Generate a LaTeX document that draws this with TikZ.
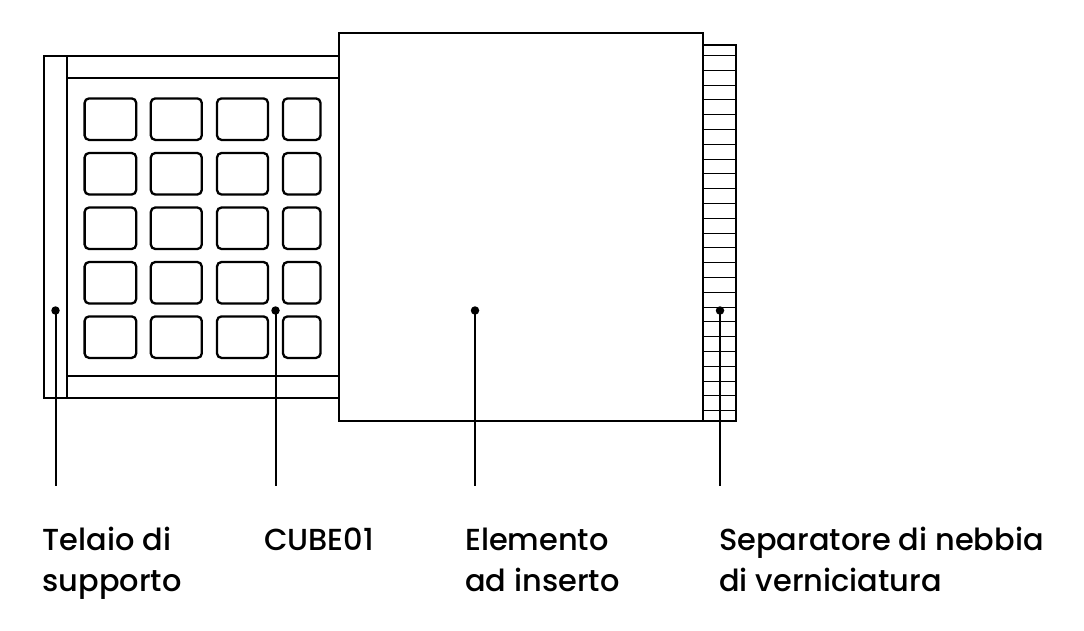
\documentclass[tikz,border=0pt]{standalone}
\usepackage{fontspec}
\setmainfont{Poppins Medium}
\usetikzlibrary{positioning}

\tikzset{
  part/.style={draw,line width=2.3pt,fill=white,inner sep=0pt,outer sep=0pt,anchor=north west},
  tile/.style={part,rounded corners=4.5pt,minimum height=41.5pt},
  rib/.style={line width=1pt},
  leader/.style={line width=2pt},
  dot/.style={circle,fill=black,inner sep=0pt,minimum size=8.5pt},
  caption/.style={anchor=base west,align=left,inner sep=0pt,font=\fontsize{30.4}{41}\selectfont}
}

\begin{document}
\begin{tikzpicture}[x=1pt,y=-1pt]
  \useasboundingbox (0,0) rectangle (1084,630);

  % frame
  \node[part,minimum width=23pt,minimum height=342pt] (post) at (44,56) {};
  \node[part,minimum width=272pt,minimum height=22pt] (railtop) at (67,56) {};
  \node[part,minimum width=272pt,minimum height=22pt] (railbot) at (67,376) {};
  \draw[line width=2.3pt] (railtop.south east) -- (railbot.north east);

  % tiles
  \foreach \row/\y in {1/98.4,2/153,3/207.5,4/262,5/316.4}{
    \foreach \col/\x/\w in {1/84.6/51.6,2/150.8/51,3/217/51,4/283/37.5}
      \node[tile,minimum width=\w pt] (tile\row\col) at (\x,\y) {};
  }

  % insert and separator
  \node[part,minimum width=33pt,minimum height=376pt] (sep) at (703,45) {};
  \foreach \n in {0,...,24}
    \draw[rib] (703,55.5+\n*14.8) -- (736,55.5+\n*14.8);
  \node[part,minimum width=364pt,minimum height=388pt] (insert) at (339,33) {};

  % leaders
  \node[dot] (dotA) at (55.5,310.5) {};
  \node[dot] (dotB) at (275.5,310.5) {};
  \node[dot] (dotC) at (475,310.5) {};
  \node[dot] (dotD) at (720,310.5) {};
  \coordinate (endA) at (55.5,486);
  \coordinate (endB) at (275.5,486);
  \coordinate (endC) at (475,486);
  \coordinate (endD) at (720,486);
  \foreach \n in {A,B,C,D}
    \draw[leader] (dot\n.center) -- (end\n);

  % labels
  \node[caption] (labA) at (42.5,591) {Telaio di\\supporto};
  \node[caption] (labB) at (264,550) {CUBE01};
  \node[caption] (labC) at (465,591) {Elemento\\ad inserto};
  \node[caption] (labD) at (719,591) {Separatore di nebbia\\di verniciatura};
\end{tikzpicture}
\end{document}
